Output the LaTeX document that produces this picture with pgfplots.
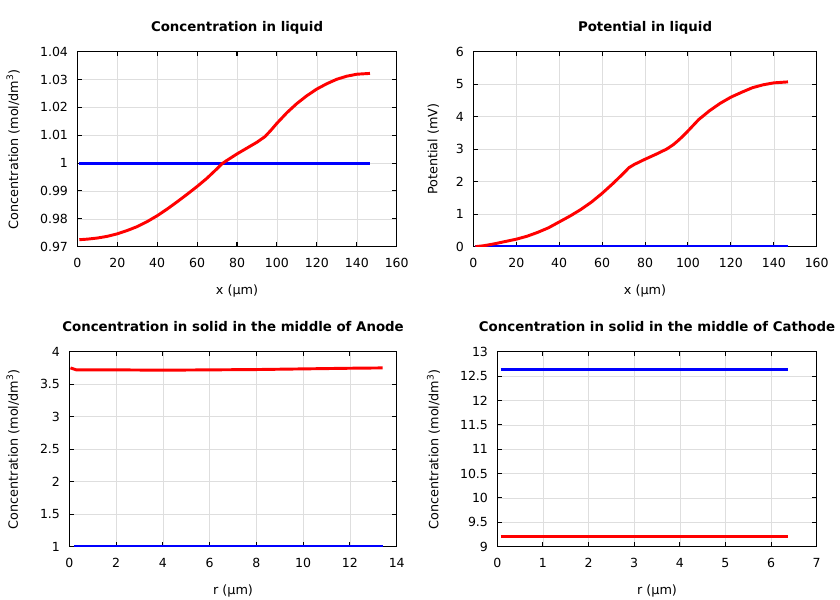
\documentclass[border=0pt]{standalone}
\usepackage{pgfplots}
\pgfplotsset{compat=1.18}
\usepackage{fontspec}
\setmainfont{DejaVu Sans}
\definecolor{gpred}{RGB}{255,0,0}
\definecolor{gpblue}{RGB}{0,0,255}
\begin{document}
\begin{tikzpicture}
\useasboundingbox (0pt,0pt) rectangle (630pt,450pt);
\pgfplotsset{
 gp/.style={
  scale only axis,
  axis line style={line width=1pt, black},
  tick align=inside,
  major tick length=3.5pt,
  every tick/.style={black, line width=0.8pt},
  grid=major,
  major grid style={line width=0.4pt, color=black!13},
  tick label style={font=\fontsize{9.4}{11}\selectfont},
  label style={font=\fontsize{9.6}{11}\selectfont},
  /pgf/number format/assume math mode=true,
  xticklabel style={anchor=base, yshift=-15.5pt},
  yticklabel style={anchor=east, xshift=-3.5pt},
  every axis title shift=0pt,
  title style={font=\fontsize{10}{12}\selectfont\bfseries, anchor=base, at={(axis description cs:0.5,1.1026)}},
  xlabel style={anchor=base, at={(axis description cs:0.5,-0.247)}},
  every axis plot/.append style={line width=2.2pt},
 }
}
% Plot 1
\begin{axis}[gp, at={(58.0pt,265.0pt)}, anchor=south west, width=239.55pt, height=146.25pt,
  xmin=0, xmax=160, ymin=0.97, ymax=1.04,
  xtick={0,20,40,60,80,100,120,140,160},
  ytick={0.97,0.98,0.99,1.00,1.01,1.02,1.03,1.04},
  yticklabel style={/pgf/number format/.cd,fixed,precision=2},
  title={Concentration in liquid}, xlabel={x (µm)},
  ylabel={Concentration (mol/dm\textsuperscript{3})},
  ylabel style={anchor=center, at={(axis description cs:-0.201,0.5)}}]
\addplot[gpblue] coordinates {(1,1.0) (146.6,1.0)};
\addplot[gpred] coordinates {
(1,0.9725) (5,0.9727) (10,0.9731) (15,0.9737) (20,0.9746) (25,0.9758) (30,0.9772) (35,0.9790)
(40,0.9811) (45,0.9835) (50,0.9861) (55,0.9888) (60,0.9916) (65,0.9946) (70,0.9980) (72.5,0.9998)
(75,1.0010) (80,1.0033) (85,1.0054) (90,1.0075) (94,1.0095) (97,1.0118) (100,1.0143) (105,1.0181)
(110,1.0214) (115,1.0242) (120,1.0266) (125,1.0285) (130,1.0301) (135,1.0312) (140,1.0319) (146.6,1.0322)};
\end{axis}
% Plot 2
\begin{axis}[gp, at={(355.0pt,265.0pt)}, anchor=south west, width=257.55pt, height=146.25pt,
  xmin=0, xmax=160, ymin=0, ymax=6,
  xtick={0,20,40,60,80,100,120,140,160},
  ytick={0,1,2,3,4,5,6},
  title={Potential in liquid}, xlabel={x (µm)},
  ylabel={Potential (mV)},
  ylabel style={anchor=center, at={(axis description cs:-0.1165,0.5)}}]
\addplot[gpblue] coordinates {(1,0) (146.6,0)};
\addplot[gpred] coordinates {
(1,0.00) (5,0.03) (10,0.09) (15,0.16) (20,0.23) (25,0.32) (30,0.44) (35,0.58) (40,0.76) (45,0.94)
(50,1.14) (55,1.37) (60,1.64) (65,1.94) (70,2.26) (72.5,2.43) (75,2.53) (80,2.69) (85,2.84) (90,3.00)
(93,3.13) (95,3.24) (97,3.36) (100,3.56) (105,3.91) (110,4.18) (115,4.41) (120,4.60) (125,4.75) (130,4.89)
(135,4.98) (140,5.04) (146.6,5.07)};
\end{axis}
% Plot 3
\begin{axis}[gp, at={(52.0pt,40.0pt)}, anchor=south west, width=245.55pt, height=146.25pt,
  xmin=0, xmax=14, ymin=1, ymax=4,
  xtick={0,2,4,6,8,10,12,14},
  ytick={1,1.5,2,2.5,3,3.5,4},
  title={Concentration in solid in the middle of Anode}, xlabel={r (µm)},
  ylabel={Concentration (mol/dm\textsuperscript{3})},
  ylabel style={anchor=center, at={(axis description cs:-0.172,0.5)}}]
\addplot[gpblue] coordinates {(0.2,1) (13.4,1)};
\addplot[gpred] coordinates {(0.05,3.75) (0.3,3.72) (2,3.72) (4,3.715) (6,3.72) (8,3.725) (10,3.735) (12,3.745) (13.4,3.75)};
\end{axis}
% Plot 4
\begin{axis}[gp, at={(373.0pt,40.0pt)}, anchor=south west, width=239.55pt, height=146.25pt,
  xmin=0, xmax=7, ymin=9, ymax=13,
  xtick={0,1,2,3,4,5,6,7},
  ytick={9,9.5,10,10.5,11,11.5,12,12.5,13},
  title={Concentration in solid in the middle of Cathode}, xlabel={r (µm)},
  ylabel={Concentration (mol/dm\textsuperscript{3})},
  ylabel style={anchor=center, at={(axis description cs:-0.2,0.5)}}]
\addplot[gpblue] coordinates {(0.07,12.63) (6.38,12.63)};
\addplot[gpred] coordinates {(0.07,9.2) (6.38,9.2)};
\end{axis}
\end{tikzpicture}
\end{document}
